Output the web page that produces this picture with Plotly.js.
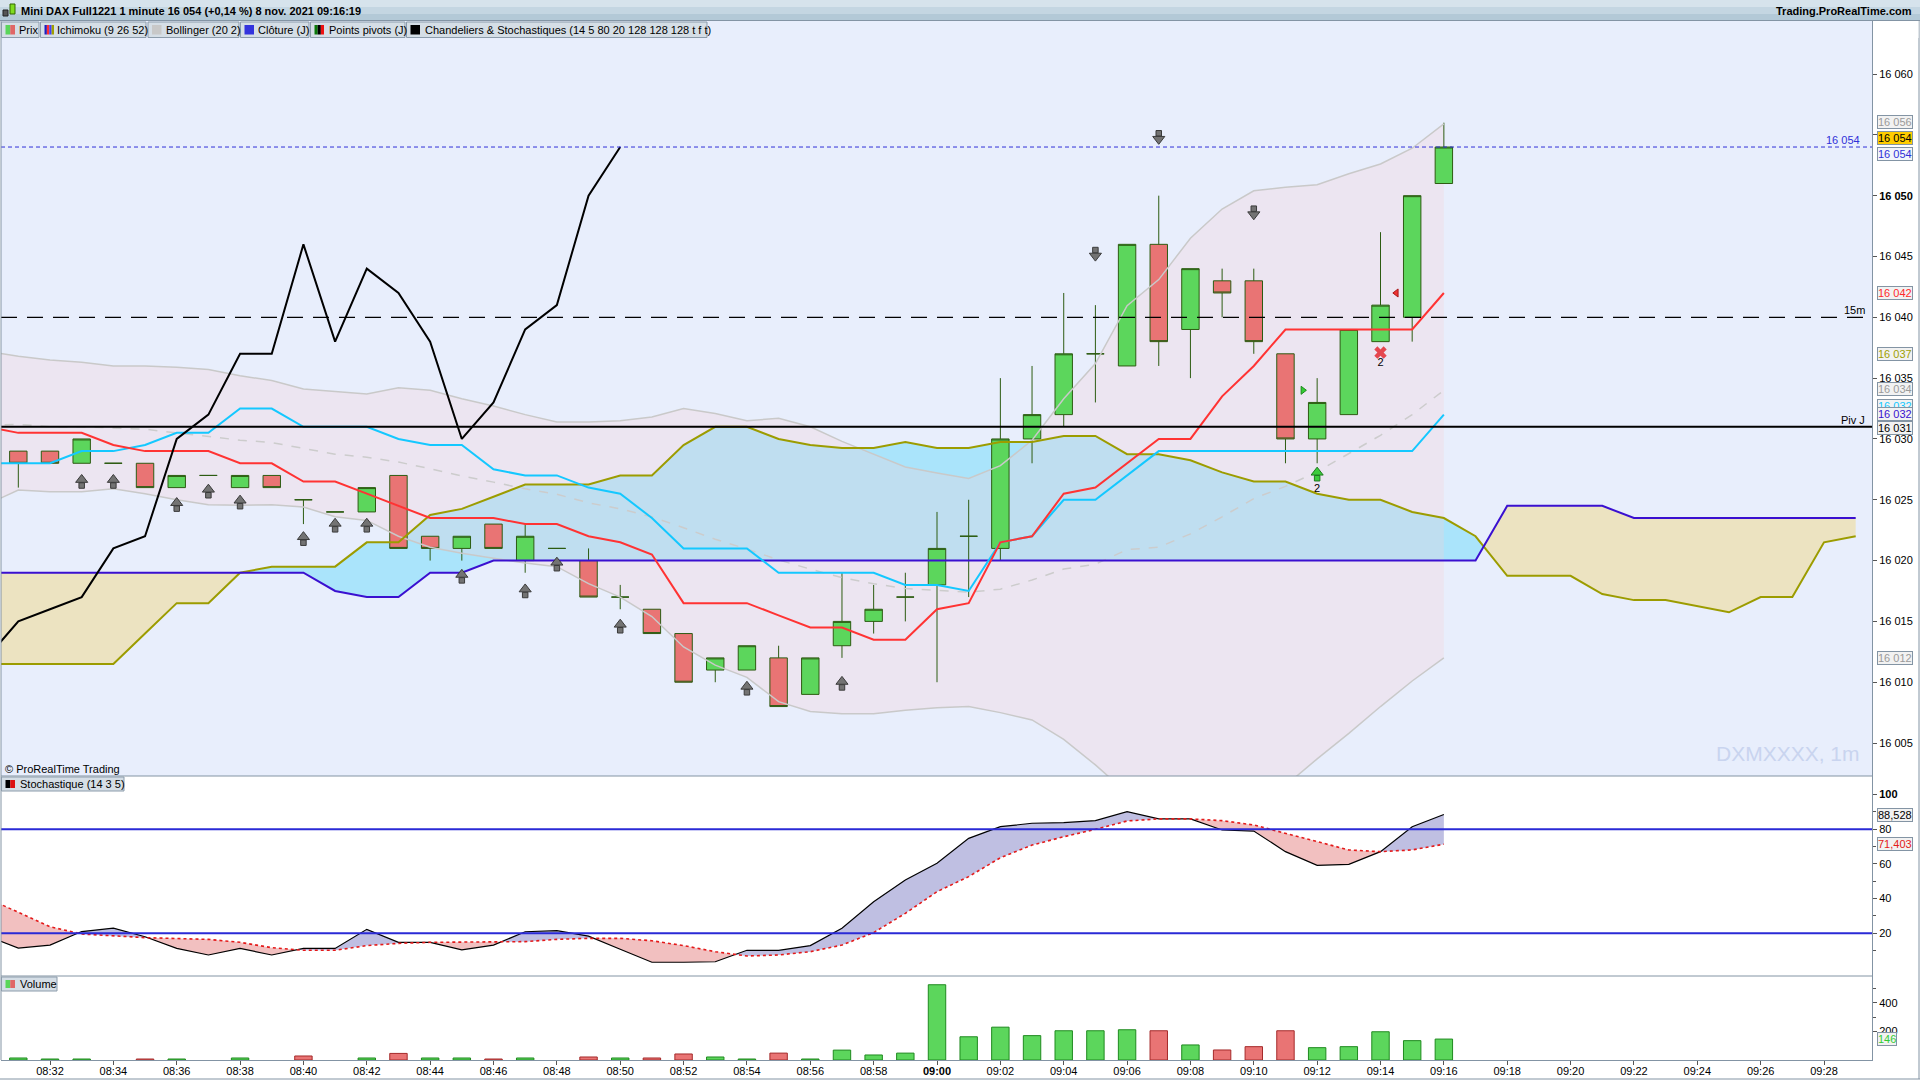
<!DOCTYPE html>
<html>
<head>
<meta charset="utf-8">
<title>Mini DAX Full1221</title>
<script src="https://cdn.plot.ly/plotly-3.0.1.min.js"></script>
<style>
html,body{margin:0;padding:0;background:#ffffff;overflow:hidden;}
#chart{width:1920px;height:1080px;}
</style>
</head>
<body>
<div id="chart"></div>
<script>
// ================= DATA =================
const candleTimes = ['08:31','08:32','08:33','08:34','08:35','08:36','08:37','08:38','08:39','08:40','08:41','08:42','08:43','08:44','08:45','08:46','08:47','08:48','08:49','08:50','08:51','08:52','08:53','08:54','08:55','08:56','08:57','08:58','08:59','09:00','09:01','09:02','09:03','09:04','09:05','09:06','09:07','09:08','09:09','09:10','09:11','09:12','09:13','09:14','09:15','09:16'];
const opens  = [16029,16029,16028,16028,16028,16026,16027,16026,16027,16025,16024,16024,16027,16022,16021,16023,16020,16021,16020,16017,16016,16014,16011,16011,16012,16009,16013,16015,16017,16018,16022,16021,16030,16032,16037,16036,16046,16039,16043,16043,16037,16030,16032,16038,16040,16051];
const highs  = [16029,16029,16030,16028,16028,16027,16027,16027,16027,16025,16024,16026,16027,16022,16022,16023,16023,16021,16021,16018,16016,16014,16012,16013,16013,16012,16019,16018,16019,16024,16025,16035,16036,16042,16041,16046,16050,16044,16044,16044,16037,16035,16039,16047,16050,16056];
const lows   = [16026,16028,16028,16028,16026,16026,16027,16026,16026,16023,16024,16024,16021,16020,16020,16021,16019,16021,16017,16016,16014,16010,16010,16011,16008,16009,16012,16014,16015,16010,16017,16020,16028,16031,16033,16036,16036,16035,16040,16037,16028,16028,16032,16038,16038,16051];
const closes = [16028,16028,16030,16028,16026,16027,16027,16027,16026,16025,16024,16026,16021,16021,16022,16021,16022,16021,16017,16017,16014,16010,16012,16013,16008,16012,16015,16016,16017,16021,16022,16030,16032,16037,16037,16046,16038,16044,16042,16038,16030,16033,16039,16041,16050,16054];

const volumes   = [14,7,7,null,7,7,null,14,null,28,null,14,46,14,14,7,14,null,21,14,14,42,21,7,48,7,69,35,48,525,162,229,170,204,204,211,204,105,70,93,204,86,93,197,135,146];
const volumeDir = ['u','u','u','u','d','u','u','u','d','d','d','u','d','u','u','d','u','d','d','u','d','d','u','u','d','u','u','u','u','u','u','u','u','u','u','u','d','u','d','d','d','u','u','u','u','u'];

const indTimes = ['08:30','08:31','08:32','08:33','08:34','08:35','08:36','08:37','08:38','08:39','08:40','08:41','08:42','08:43','08:44','08:45','08:46','08:47','08:48','08:49','08:50','08:51','08:52','08:53','08:54','08:55','08:56','08:57','08:58','08:59','09:00','09:01','09:02','09:03','09:04','09:05','09:06','09:07','09:08','09:09','09:10','09:11','09:12','09:13','09:14','09:15','09:16'];
const tenkan = [16031,16030.5,16030.5,16030.5,16029.5,16029,16029,16029,16028,16028,16026.5,16026.5,16025.5,16024.5,16023.5,16023.5,16023.5,16023,16023,16022,16021.5,16020.5,16016.5,16016.5,16016.5,16015.5,16014.5,16014.5,16013.5,16013.5,16016,16016.5,16021.5,16022,16025.5,16026,16028,16030,16030,16033.5,16036,16039,16039,16039,16039,16039,16042];
const kijun  = [16028,16028,16028,16029,16029,16029.5,16030.5,16030.5,16032.5,16032.5,16031,16031,16031,16030,16029.5,16029.5,16027.5,16027,16027,16026,16025.5,16023.5,16021,16021,16021,16019,16019,16019,16019,16018,16018,16017.5,16021.5,16022,16025,16025,16027,16029,16029,16029,16029,16029,16029,16029,16029,16029,16032];
const bbUpper  = [16037.2,16036.8,16036.5,16036.3,16036.0,16036.0,16035.9,16035.7,16035.2,16034.8,16034.1,16033.9,16033.7,16034.2,16034.0,16033.3,16032.7,16032.0,16031.4,16031.4,16031.5,16031.8,16032.5,16032.1,16031.5,16031.7,16031.0,16029.8,16028.75,16027.7,16027.2,16026.75,16027.8,16029.9,16033.3,16036.2,16040.95,16043.1,16046.5,16048.9,16050.4,16050.7,16050.9,16051.8,16052.6,16053.9,16055.9];
const bbMiddle = [16031.1,16031.2,16031.0,16031.0,16030.9,16030.8,16030.5,16030.2,16029.9,16029.7,16029.25,16028.75,16028.5,16028.1,16027.55,16026.95,16026.45,16025.9,16025.45,16024.75,16024.25,16023.6,16022.7,16021.75,16020.95,16020.05,16019.3,16018.6,16018.1,16017.7,16017.55,16017.4,16017.65,16018.4,16019.3,16019.7,16020.9,16021.1,16022.2,16023.6,16025.1,16026.1,16027.3,16028.8,16030.3,16032.0,16034.0];
const bbLower  = [16024.6,16025.8,16025.65,16025.65,16025.9,16025.5,16025.0,16024.6,16024.55,16024.6,16024.4,16023.6,16023.3,16022.0,16021.1,16020.6,16020.2,16019.8,16019.5,16018.1,16017.0,16015.4,16012.9,16011.4,16010.4,16008.4,16007.6,16007.4,16007.4,16007.7,16007.9,16008.0,16007.5,16006.9,16005.3,16003.2,16000.9,15999.1,15997.9,15998.3,15999.8,16001.5,16003.7,16005.8,16008.0,16010.1,16012.0];
const stochK = [18.5,11.5,13.2,21,23,18,11.3,7.5,11.3,7.5,11.3,11.3,22.3,14.8,14.8,10.4,13.2,20.9,21.5,18.4,10.8,3.3,3.3,3.6,10.2,10.2,12.9,22.9,38.2,50.8,60.4,74.8,81.5,83.5,83.8,85.0,90.2,86.0,86.0,79.6,79.0,67.1,59.2,59.8,67.1,81.5,88.528];
const stochD = [40.4,32.1,23.8,19.6,18.4,17.5,17,16.5,14.8,11.7,10.2,10.2,12.9,14.2,14.8,14.8,15.2,15.2,16.5,17.1,17.1,15.7,12.9,9.4,6.9,7.5,9.4,13.2,20.4,31.5,44.0,52.7,63.6,70.9,75.7,80.0,84.8,86.0,86.0,85.0,82.5,77.7,72.9,68.1,67.1,68.1,71.403];

const cloudTimes = ['08:30','08:31','08:32','08:33','08:34','08:35','08:36','08:37','08:38','08:39','08:40','08:41','08:42','08:43','08:44','08:45','08:46','08:47','08:48','08:49','08:50','08:51','08:52','08:53','08:54','08:55','08:56','08:57','08:58','08:59','09:00','09:01','09:02','09:03','09:04','09:05','09:06','09:07','09:08','09:09','09:10','09:11','09:12','09:13','09:14','09:15','09:16','09:17','09:18','09:19','09:20','09:21','09:22','09:23','09:24','09:25','09:26','09:27','09:28','09:29'];
const senkouA = [16011.5,16011.5,16011.5,16011.5,16011.5,16014,16016.5,16016.5,16019,16019.5,16019.5,16019.5,16021.5,16021.5,16023.75,16024.25,16025.25,16026.25,16026.25,16026.25,16027,16027,16029.5,16031,16031,16030,16029.5,16029.25,16029.25,16029.75,16029.25,16029.25,16029.75,16029.75,16030.25,16030.25,16028.75,16028.75,16028.25,16027.25,16026.5,16026.5,16025.5,16025,16025,16024,16023.5,16022,16018.75,16018.75,16018.75,16017.25,16016.75,16016.75,16016.25,16015.75,16017,16017,16021.5,16022];
const senkouB = [16019,16019,16019,16019,16019,16019,16019,16019,16019,16019,16019,16017.5,16017,16017,16019,16019,16020,16020,16020,16020,16020,16020,16020,16020,16020,16020,16020,16020,16020,16020,16020,16020,16020,16020,16020,16020,16020,16020,16020,16020,16020,16020,16020,16020,16020,16020,16020,16020,16024.5,16024.5,16024.5,16024.5,16023.5,16023.5,16023.5,16023.5,16023.5,16023.5,16023.5,16023.5];
const chikouTimes = ['08:30','08:31','08:32','08:33','08:34','08:35','08:36','08:37','08:38','08:39','08:40','08:41','08:42','08:43','08:44','08:45','08:46','08:47','08:48','08:49','08:50'];
const chikou = [16012,16015,16016,16017,16021,16022,16030,16032,16037,16037,16046,16038,16044,16042,16038,16030,16033,16039,16041,16050,16054];

const pivotLevel = 16031;
const level15m = 16040;
const lastPrice = 16054;
const stochUpper = 80, stochLower = 20;

const upArrowTimes  = ['08:33','08:34','08:36','08:37','08:38','08:40','08:41','08:42','08:45','08:47','08:48','08:50','08:54','08:57'];
const upArrowLevels = [16026.5,16026.5,16024.6,16025.7,16024.8,16021.8,16022.9,16022.9,16018.7,16017.5,16019.7,16014.6,16009.5,16009.9];
const downArrowTimes  = ['09:05','09:07','09:10'];
const downArrowLevels = [16045.2,16054.8,16048.6];
const buySignalTimes = ['09:12'], buySignalLevels = [16027.1];
const exitSignalTime = '09:14', exitSignalLevel = 16037.1;
const signalCountTimes = ['09:12','09:14'];
const signalCountLevels = [16025.9,16036.2];
const signalCountText = ['2','2'];
const greenTriTime = '09:11:33', greenTriLevel = 16034;
const redTriTime = '09:14:30', redTriLevel = 16042;

const xTickLabels = ['08:32','08:34','08:36','08:38','08:40','08:42','08:44','08:46','08:48','08:50','08:52','08:54','08:56','08:58','09:00','09:02','09:04','09:06','09:08','09:10','09:12','09:14','09:16','09:18','09:20','09:22','09:24','09:26','09:28'];
const priceTicks = [16005,16010,16015,16020,16025,16030,16035,16040,16045,16050,16055,16060];
const stochTicks = [20,40,60,80,100];
const stochMinor = [10,30,50,70,90];
const volTicks = [200,400];
const volMinor = [300,500];

// ================= HELPERS =================
const F = 'Liberation Sans, Arial, sans-serif';
const toMin = s => { const p = s.split(':').map(Number); return p[0]*60 + p[1] - 480 + (p[2]||0)/60; };
const PL = 1, PR = 1872, PT = 21, PB = 1060;
const px2x = px => (px - PL) / (PR - PL);
const px2y = py => (PB - py) / (PB - PT);
const fmtPrice = v => { const s = String(v); return s.slice(0, s.length-3) + ' ' + s.slice(-3); };
const mainRange = [16002.29, 16064.36];
const pxPerPt = (776 - PT) / (mainRange[1] - mainRange[0]);

const cx = candleTimes.map(toMin);
const ix = indTimes.map(toMin);
const kx = cloudTimes.map(toMin);
const chx = chikouTimes.map(toMin);

function twoColor(xs, a, b, colA, colB, yaxis) {
  const up = {x:[], y:[]}, dn = {x:[], y:[]};
  for (let i = 1; i < xs.length; i++) {
    const x0 = xs[i-1], x1 = xs[i], a0 = a[i-1], a1 = a[i], b0 = b[i-1], b1 = b[i];
    const d0 = a0 - b0, d1 = a1 - b1;
    if (d0 * d1 < 0) {
      const t = d0 / (d0 - d1), xc = x0 + t*(x1-x0), yc = a0 + t*(a1-a0);
      const first = d0 > 0 ? up : dn, second = d0 > 0 ? dn : up;
      first.x.push(x0, xc, x0, null); first.y.push(a0, yc, b0, null);
      second.x.push(xc, x1, x1, null); second.y.push(yc, a1, b1, null);
    } else {
      const tgt = (d0 + d1) >= 0 ? up : dn;
      tgt.x.push(x0, x1, x1, x0, null); tgt.y.push(a0, a1, b1, b0, null);
    }
  }
  const mk = (o, c) => ({type:'scatter', mode:'lines', line:{width:0}, x:o.x, y:o.y, fill:'toself', fillcolor:c, xaxis:'x', yaxis:yaxis, hoverinfo:'skip', showlegend:false});
  return [mk(up, colA), mk(dn, colB)];
}

// ================= TRACES =================
const traces = [];
// base main subplot (y): cloud and bollinger fill
traces.push(...twoColor(kx, senkouA, senkouB, '#aae4fb', '#ece3c1', 'y'));
traces.push({type:'scatter', mode:'lines', line:{width:0}, x:ix.concat(ix.slice().reverse()), y:bbUpper.concat(bbLower.slice().reverse()),
  fill:'toself', fillcolor:'rgba(247,207,210,0.27)', xaxis:'x', yaxis:'y', hoverinfo:'skip', showlegend:false});

// overlay subplot (y4): candles + lines
traces.push({type:'candlestick', x:cx, open:opens, high:highs, low:lows, close:closes, xaxis:'x', yaxis:'y4',
  increasing:{line:{color:'#2d5c12', width:1}, fillcolor:'#5cd65c'},
  decreasing:{line:{color:'#2d5c12', width:1}, fillcolor:'#e97474'},
  whiskerwidth:0, hoverinfo:'skip', showlegend:false});
const line = (x, y, color, width, dash) => ({type:'scatter', mode:'lines', x:x, y:y, xaxis:'x', yaxis:'y4', line:{color:color, width:width, dash:dash||'solid'}, hoverinfo:'skip', showlegend:false});
traces.push(line(ix, bbUpper, '#c9c9c9', 1.5));
traces.push(line(ix, bbLower, '#c9c9c9', 1.5));
traces.push(line(ix, bbMiddle, '#cccccc', 1.5, '9px,9px'));
traces.push(line(kx, senkouA, '#9c9c00', 2));
traces.push(line(kx, senkouB, '#3a10d0', 2));
traces.push(line(ix, kijun, '#14c8ff', 2));
traces.push(line(ix, tenkan, '#ff3333', 2));
traces.push(line(chx, chikou, '#000000', 2));

// signal arrows built from a stem and a head marker
function arrows(times, levels, dir, fill, edge) {
  const s = dir === 'up' ? 1 : -1;
  const xs = times.map(toMin);
  traces.push({type:'scatter', mode:'markers', x:xs, y:levels.map(v => v - s*4/pxPerPt), xaxis:'x', yaxis:'y4',
    marker:{symbol:'square', size:5.5, color:fill, line:{color:edge, width:1}}, hoverinfo:'skip', showlegend:false});
  traces.push({type:'scatter', mode:'markers', x:xs, y:levels.map(v => v + s*1.8/pxPerPt), xaxis:'x', yaxis:'y4',
    marker:{symbol: dir === 'up' ? 'triangle-up' : 'triangle-down', size:10.5, color:fill, line:{color:edge, width:1}}, hoverinfo:'skip', showlegend:false});
}
arrows(upArrowTimes, upArrowLevels, 'up', '#737373', '#3a3a3a');
arrows(downArrowTimes, downArrowLevels, 'down', '#737373', '#3a3a3a');
arrows(buySignalTimes, buySignalLevels, 'up', '#3ccc3c', '#1d7a1d');
traces.push({type:'scatter', mode:'markers', x:[toMin(exitSignalTime)], y:[exitSignalLevel], marker:{symbol:'x', size:11, color:'#e4474f', line:{width:0}},
  xaxis:'x', yaxis:'y4', hoverinfo:'skip', showlegend:false});
traces.push({type:'scatter', mode:'text', x:signalCountTimes.map(toMin), y:signalCountLevels, text:signalCountText, textposition:'middle center',
  textfont:{family:F, size:11, color:'#000000'}, xaxis:'x', yaxis:'y4', hoverinfo:'skip', showlegend:false});
traces.push({type:'scatter', mode:'markers', x:[toMin(greenTriTime)], y:[greenTriLevel], marker:{symbol:'triangle-right', size:7, color:'#33cc33', line:{width:1,color:'#1a8a1a'}},
  xaxis:'x', yaxis:'y4', hoverinfo:'skip', showlegend:false});
traces.push({type:'scatter', mode:'markers', x:[toMin(redTriTime)], y:[redTriLevel], marker:{symbol:'triangle-left', size:7, color:'#ee3333', line:{width:1,color:'#aa1a1a'}},
  xaxis:'x', yaxis:'y4', hoverinfo:'skip', showlegend:false});

// stochastic
traces.push(...twoColor(ix, stochK, stochD, '#bfbfe2', '#f2c0c0', 'y2'));
traces.push({type:'scatter', mode:'lines', x:ix, y:stochK, xaxis:'x', yaxis:'y2', line:{color:'#000000', width:1.2}, hoverinfo:'skip', showlegend:false});
traces.push({type:'scatter', mode:'lines', x:ix, y:stochD, xaxis:'x', yaxis:'y2', line:{color:'#e41a1a', width:1.6, dash:'dot'}, hoverinfo:'skip', showlegend:false});

// volume
traces.push({type:'bar', x:cx, y:volumes, width:0.55, xaxis:'x', yaxis:'y3',
  marker:{color:volumeDir.map(d => d==='u' ? '#5cd65c' : '#e97474'), line:{color:volumeDir.map(d => d==='u' ? '#1f8a1f' : '#a52a2a'), width:1}},
  hoverinfo:'skip', showlegend:false});

// ================= LAYOUT =================
const mainDom = [px2y(776), 1];
const stochDom = [px2y(976), px2y(776)];
const volDom = [0, px2y(976)];

const axisCommon = {side:'right', showgrid:false, zeroline:false, showline:true, linecolor:'#8394a4', linewidth:1,
  ticks:'outside', ticklen:4, tickcolor:'#555555', tickfont:{family:F, size:11, color:'#000000'}, fixedrange:true};

const shapes = [];
const annotations = [];
shapes.push({type:'rect', xref:'x domain', yref:'y domain', x0:0, x1:1, y0:0, y1:1, fillcolor:'#e8eefc', line:{width:0}, layer:'below'});
shapes.push({type:'line', xref:'paper', x0:0, x1:1, yref:'y', y0:pivotLevel, y1:pivotLevel, line:{color:'#000000', width:2}, layer:'above'});
shapes.push({type:'line', xref:'paper', x0:0, x1:1, yref:'y', y0:level15m, y1:level15m, line:{color:'#000000', width:1.2, dash:'16px,10px'}, layer:'above'});
shapes.push({type:'line', xref:'paper', x0:0, x1:1, yref:'y', y0:lastPrice, y1:lastPrice, line:{color:'#3030d8', width:1, dash:'4px,3px'}, layer:'above'});
shapes.push({type:'line', xref:'paper', x0:0, x1:1, yref:'y2', y0:stochUpper, y1:stochUpper, line:{color:'#2a2ad6', width:2}, layer:'above'});
shapes.push({type:'line', xref:'paper', x0:0, x1:1, yref:'y2', y0:stochLower, y1:stochLower, line:{color:'#2a2ad6', width:2}, layer:'above'});
shapes.push({type:'line', xref:'paper', yref:'paper', x0:0, x1:1, y0:px2y(776), y1:px2y(776), line:{color:'#8394a4', width:1}, layer:'above'});
shapes.push({type:'line', xref:'paper', yref:'paper', x0:0, x1:1, y0:px2y(976), y1:px2y(976), line:{color:'#8394a4', width:1}, layer:'above'});
shapes.push({type:'line', xref:'paper', yref:'paper', x0:px2x(1), x1:px2x(1), y0:0, y1:1, line:{color:'#8394a4', width:1}, layer:'above'});
shapes.push({type:'line', xref:'paper', yref:'paper', x0:px2x(0), x1:px2x(1920), y0:px2y(1079), y1:px2y(1079), line:{color:'#8394a4', width:1}, layer:'above'});
shapes.push({type:'line', xref:'paper', yref:'paper', x0:px2x(1919), x1:px2x(1919), y0:px2y(1079), y1:px2y(20), line:{color:'#8394a4', width:1}, layer:'above'});

[['#d6e3ec',0,7],['#c4d6e2',7,14],['#b3c9d7',14,20]].forEach(s => {
  shapes.push({type:'rect', xref:'paper', yref:'paper', x0:px2x(0), x1:px2x(1920), y0:px2y(s[2]), y1:px2y(s[1]), fillcolor:s[0], line:{width:0}, layer:'above'});
});
shapes.push({type:'line', xref:'paper', yref:'paper', x0:px2x(0), x1:px2x(1920), y0:px2y(20.5), y1:px2y(20.5), line:{color:'#8394a4', width:1}, layer:'above'});
shapes.push({type:'rect', xref:'paper', yref:'paper', x0:px2x(3), x1:px2x(8), y0:px2y(16), y1:px2y(10), fillcolor:'#555555', line:{color:'#222222', width:1}, layer:'above'});
shapes.push({type:'rect', xref:'paper', yref:'paper', x0:px2x(10), x1:px2x(15), y0:px2y(14), y1:px2y(4), fillcolor:'#7fdc1f', line:{color:'#336600', width:1}, layer:'above'});
annotations.push({xref:'paper', yref:'paper', x:px2x(19), y:px2y(11), xanchor:'left', yanchor:'middle', showarrow:false,
  text:'<b>Mini DAX Full1221 1 minute 16 054 (+0,14 %) 8 nov. 2021 09:16:19</b>', font:{family:F, size:11, color:'#000000'}});
annotations.push({xref:'paper', yref:'paper', x:px2x(1914), y:px2y(11), xanchor:'right', yanchor:'middle', showarrow:false,
  text:'<b>Trading.ProRealTime.com</b>', font:{family:F, size:11, color:'#000000'}});
shapes.push({type:'rect', xref:'paper', yref:'paper', x0:px2x(1873), x1:px2x(1918.5), y0:px2y(38), y1:px2y(21), fillcolor:'#ffffff', line:{width:0}, layer:'above'});

const legendBoxes = [
  {x0:1.5, x1:39, tx:17, text:'Prix', icon:['#5ad65a','#e06666']},
  {x0:40.5, x1:146, tx:55, text:'Ichimoku (9 26 52)', icon:['#2020c0','#ff3030','#4040ff','#a0a000']},
  {x0:148, x1:239, tx:164, text:'Bollinger (20 2)', icon:['#c8c8c8']},
  {x0:240.5, x1:309, tx:256, text:'Clôture (J)', icon:['#3333dd']},
  {x0:310.5, x1:405, tx:327, text:'Points pivots (J)', icon:['#0a7a0a','#000000','#ee1111']},
  {x0:406.5, x1:707, tx:423, text:'Chandeliers &amp; Stochastiques (14 5 80 20 128 128 128 t f t)', icon:['#000000']}
];
function headerBox(b, y0, y1) {
  shapes.push({type:'rect', xref:'paper', yref:'paper', x0:px2x(b.x0), x1:px2x(b.x1), y0:px2y(y1), y1:px2y(y0), fillcolor:'#d5dee6', line:{color:'#8c9cab', width:1}, layer:'above'});
  const iw = 9.5, ix0 = b.x0 + 4, n = b.icon.length;
  b.icon.forEach((c, k) => {
    shapes.push({type:'rect', xref:'paper', yref:'paper', x0:px2x(ix0 + k*iw/n), x1:px2x(ix0 + (k+1)*iw/n), y0:px2y(y1-3), y1:px2y(y0+3), fillcolor:c, line:{width:0}, layer:'above'});
  });
  annotations.push({xref:'paper', yref:'paper', x:px2x(b.tx), y:px2y((y0+y1)/2), xanchor:'left', yanchor:'middle', showarrow:false,
    text:b.text, font:{family:F, size:11, color:'#000000'}});
}
legendBoxes.forEach(b => headerBox(b, 22, 37.5));
headerBox({x0:1.5, x1:124, tx:18, text:'Stochastique (14 3 5)', icon:['#000000','#dd1111']}, 777, 791);
headerBox({x0:1.5, x1:57, tx:18, text:'Volume', icon:['#5ad65a','#e06666']}, 977, 991);

annotations.push({xref:'paper', yref:'paper', x:px2x(3), y:px2y(769), xanchor:'left', yanchor:'middle', showarrow:false,
  text:'© ProRealTime Trading', font:{family:F, size:11, color:'#000000'}});
annotations.push({xref:'paper', yref:'paper', x:px2x(1862), y:px2y(753), xanchor:'right', yanchor:'middle', showarrow:false,
  text:'DXMXXXX, 1m', font:{family:F, size:21, color:'#c9d4ef'}});
annotations.push({xref:'paper', yref:'y', x:px2x(1867), y:pivotLevel, xanchor:'right', yanchor:'bottom', showarrow:false, yshift:-1,
  text:'Piv J', font:{family:F, size:11, color:'#000000'}});
annotations.push({xref:'paper', yref:'y', x:px2x(1867), y:level15m, xanchor:'right', yanchor:'bottom', showarrow:false, yshift:-1,
  text:'15m', font:{family:F, size:11, color:'#000000'}});
annotations.push({xref:'paper', yref:'y', x:px2x(1862), y:lastPrice, xanchor:'right', yanchor:'bottom', showarrow:false, yshift:-1,
  text:fmtPrice(lastPrice), font:{family:F, size:11, color:'#3030d8'}});

function boxLabel(yref, y, text, color, bg, yshift) {
  annotations.push({xref:'paper', x:1, xanchor:'left', xshift:5, yref:yref, y:y, yanchor:'middle', yshift:yshift||0, showarrow:false,
    text:text, font:{family:F, size:11, color:color}, bgcolor:bg, bordercolor:'#8394a4', borderwidth:1, borderpad:0});
}
boxLabel('y', 16032, '16 032', '#14c8ff', '#f2f2f2', 9);
boxLabel('y', 16056, '16 056', '#9a9a9a', '#f2f2f2', 1);
boxLabel('y', 16054, '16 054', '#3030d8', '#f2f4fa', -7);
boxLabel('y', 16054, '16 054', '#000000', '#ffcc00', 9);
boxLabel('y', 16042, '16 042', '#ff2a2a', '#f2f2f2', 0);
boxLabel('y', 16037, '16 037', '#a0a000', '#f2f2f2', 0);
boxLabel('y', 16034, '16 034', '#9a9a9a', '#f2f2f2', 1);
boxLabel('y', 16032, '16 032', '#3a10d0', '#f2f2f2', 1);
boxLabel('y', 16031, '16 031', '#000000', '#f2f2f2', -1);
boxLabel('y', 16012, '16 012', '#9a9a9a', '#f2f2f2', 0);
boxLabel('y2', 88.528, '88,528', '#000000', '#f2f2f2', 0);
boxLabel('y2', 71.403, '71,403', '#e41a1a', '#f2f2f2', 0);
boxLabel('y3', 146, '146', '#33cc33', '#f2f2f2', 0);

const layout = {
  width:1920, height:1080,
  margin:{l:PL, r:1920-PR, t:PT, b:1080-PB, pad:0},
  paper_bgcolor:'#ffffff', plot_bgcolor:'#ffffff',
  showlegend:false, hovermode:false,
  boxgap:0.45, boxgroupgap:0,
  bargap:0.45,
  xaxis:{domain:[0,1], anchor:'y3', range:[30.4532, 89.515], showgrid:false, zeroline:false, showline:true, linecolor:'#8394a4',
    ticks:'outside', ticklen:4, tickcolor:'#555555', tickvals:xTickLabels.map(toMin), ticklabelstandoff:-3,
    ticktext:xTickLabels.map(t => t === '09:00' ? '<b>09:00</b>' : t),
    tickfont:{family:F, size:11, color:'#000000'}, rangeslider:{visible:false}, fixedrange:true},
  yaxis: Object.assign({}, axisCommon, {domain:mainDom, anchor:'x', range:mainRange, tickvals:priceTicks,
    ticktext:priceTicks.map(v => v === 16050 ? '<b>' + fmtPrice(v) + '</b>' : fmtPrice(v))}),
  yaxis4:{overlaying:'y', side:'right', anchor:'x', range:mainRange, visible:false, showgrid:false, zeroline:false, fixedrange:true},
  yaxis2: Object.assign({}, axisCommon, {domain:stochDom, anchor:'x', range:[-4.63, 110.75], tickvals:stochTicks,
    ticktext:stochTicks.map(v => v === 100 ? '<b>100</b>' : String(v)),
    minor:{tickmode:'array', tickvals:stochMinor, ticks:'outside', ticklen:3, tickcolor:'#555555'}}),
  yaxis3: Object.assign({}, axisCommon, {domain:volDom, anchor:'x', range:[0, 586], tickvals:volTicks, ticktext:volTicks.map(String),
    minor:{tickmode:'array', tickvals:volMinor, ticks:'outside', ticklen:3, tickcolor:'#555555'}}),
  shapes:shapes,
  annotations:annotations,
  font:{family:F, size:11, color:'#000000'}
};

Plotly.newPlot('chart', traces, layout, {staticPlot:true, displayModeBar:false});
</script>
</body>
</html>
